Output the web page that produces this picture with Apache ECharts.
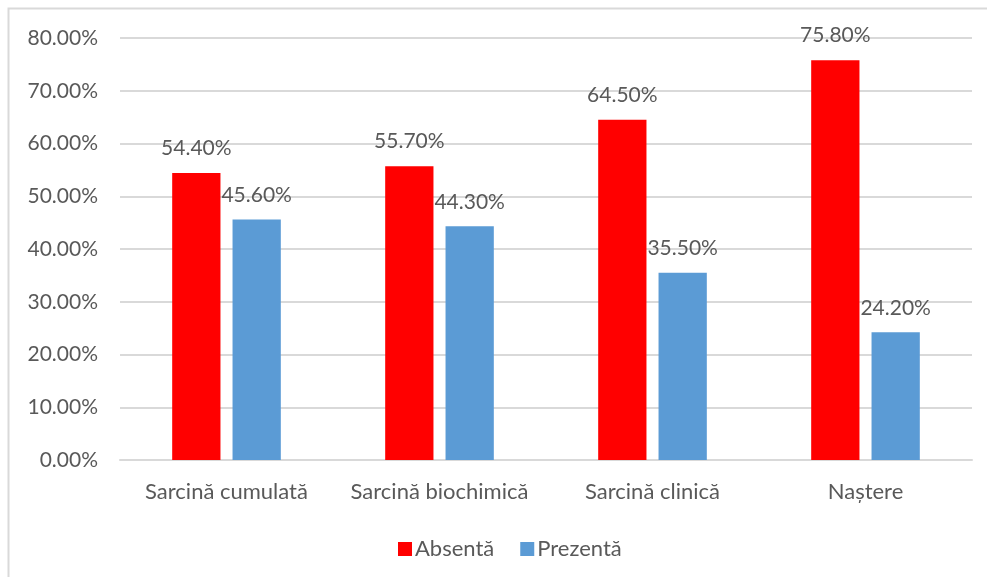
<!DOCTYPE html>
<html>
<head>
<meta charset="utf-8">
<script src="https://cdn.jsdelivr.net/npm/echarts@6/dist/echarts.min.js"></script>
<style>
  html, body { margin: 0; padding: 0; background: #fff; }
  #chart { width: 987px; height: 577px; }
</style>
</head>
<body>
<div id="chart"></div>
<script>
// Categories and values (percent)
const categories = ['Sarcină cumulată', 'Sarcină biochimică', 'Sarcină clinică', 'Naștere'];
const absenta = [54.4, 55.7, 64.5, 75.8];
const prezenta = [45.6, 44.3, 35.5, 24.2];
const seriesNames = ['Absentă', 'Prezentă'];
const yTicks = { min: 0, max: 80, interval: 10 };

const FONT = 'Lato';
const TEXT = '#595959';

const chart = echarts.init(document.getElementById('chart'), null, { renderer: 'canvas' });

const labelCfg = {
  show: true,
  position: 'top',
  distance: 14,
  color: TEXT,
  fontFamily: FONT,
  fontSize: 21,
  formatter: p => p.value.toFixed(2) + '%'
};

chart.setOption({
  animation: false,
  backgroundColor: '#fff',
  textStyle: { fontFamily: FONT },
  graphic: [{
    type: 'rect',
    shape: { x: 8.5, y: 8.5, width: 1000, height: 600 },
    style: { fill: 'none', stroke: '#D9D9D9', lineWidth: 2 },
    silent: true,
    z: -1
  }],
  grid: { left: 120, right: 15, top: 38, bottom: 117, containLabel: false },
  legend: {
    data: seriesNames,
    left: 393,
    top: 533,
    itemWidth: 14,
    itemHeight: 14,
    itemGap: 26,
    icon: 'rect',
    textStyle: { color: TEXT, fontFamily: FONT, fontSize: 22, padding: [0, 0, 0, -2] }
  },
  xAxis: {
    type: 'category',
    data: categories,
    axisLine: { lineStyle: { color: '#D9D9D9', width: 2 } },
    axisTick: { show: false },
    axisLabel: { color: TEXT, fontFamily: FONT, fontSize: 22, margin: 21, interval: 0 }
  },
  yAxis: {
    type: 'value',
    min: yTicks.min,
    max: yTicks.max,
    interval: yTicks.interval,
    axisLine: { show: false },
    axisTick: { show: false },
    splitLine: { lineStyle: { color: '#D9D9D9', width: 2 } },
    axisLabel: {
      color: TEXT, fontFamily: FONT, fontSize: 21, margin: 22,
      formatter: v => v.toFixed(2) + '%'
    }
  },
  series: [
    {
      name: seriesNames[0],
      type: 'bar',
      data: absenta,
      itemStyle: { color: '#FF0000' },
      barGap: '25%',
      barCategoryGap: '49%',
      label: labelCfg
    },
    {
      name: seriesNames[1],
      type: 'bar',
      data: prezenta,
      itemStyle: { color: '#5B9BD5' },
      label: labelCfg
    }
  ]
});
</script>
</body>
</html>
